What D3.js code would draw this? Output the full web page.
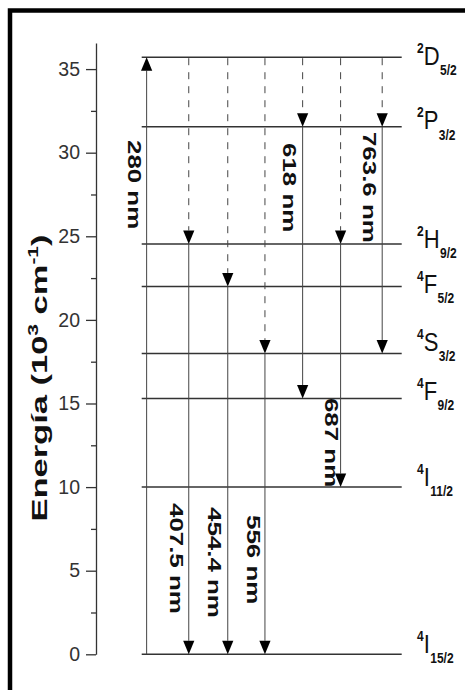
<!DOCTYPE html>
<html>
<head>
<meta charset="utf-8">
<script src="https://cdn.jsdelivr.net/npm/d3@7"></script>
<style>
  html, body { margin: 0; padding: 0; background: #fff; }
  svg { display: block; }
</style>
</head>
<body>
<svg id="chart" width="465" height="690"></svg>
<script>
// Energy levels (10^3 cm^-1) and their term symbols
const levelMult   = ["2", "2", "2", "4", "4", "4", "4", "4"];
const levelLetter = ["D", "P", "H", "F", "S", "F", "I", "I"];
const levelJ      = ["5/2", "3/2", "9/2", "5/2", "3/2", "9/2", "11/2", "15/2"];
const levelEnergy = [35.71, 31.55, 24.54, 22.0, 17.99, 15.3, 10.0, 0];

// Radiative transitions: wavelength label, start / end level index, column position
const transLabel = ["280 nm", "407.5 nm", "454.4 nm", "556 nm", "618 nm", "687 nm", "763.6 nm"];
const transFrom  = [7, 2, 3, 4, 1, 2, 1];
const transTo    = [0, 7, 7, 7, 5, 6, 4];
const transX     = [0.19, 1.81, 3.31, 4.74, 6.19, 7.65, 9.25];
// Non-radiative relaxation from the pumped level down to the emitting level
const pumpLevel  = 0;

// Axis ticks
const majorTicks = [0, 5, 10, 15, 20, 25, 30, 35];
const minorTicks = [2.5, 7.5, 12.5, 17.5, 22.5, 27.5, 32.5];

// Label placement (energy at which each wavelength label begins, px offset from arrow)
const labelStartE = [30.76, 9.05, 8.81, 8.33, 30.58, 15.33, 31.24];
const labelDx     = [-19, -18.5, -19.5, -18, -19.5, -15.5, -19];
const termDy      = [8, 2.7, 4, 6.7, -2.3, 1.3, -0.7, -1.3];

const svg = d3.select("#chart");

// Outer frame
svg.append("rect")
  .attr("x", 10).attr("y", 10.5)
  .attr("width", 480).attr("height", 720)
  .attr("fill", "none").attr("stroke", "#000").attr("stroke-width", 4.5);

const y = d3.scaleLinear().domain([0, 36.56]).range([654.3, 43]);
const x = d3.scaleLinear().domain([0, 10]).range([141.7, 401.7]);

// Y axis
const axisG = svg.append("g").attr("transform", "translate(96,0)");
axisG.call(d3.axisLeft(y).tickValues(majorTicks).tickSize(10).tickSizeOuter(0).tickPadding(6))
  .call(g => g.selectAll("text")
    .attr("font-family", "Liberation Sans, Arial, sans-serif")
    .attr("font-size", 19.5).attr("fill", "#333"));
axisG.append("g")
  .call(d3.axisLeft(y).tickValues(minorTicks).tickSize(5).tickSizeOuter(0).tickFormat(""))
  .call(g => g.select(".domain").remove());
axisG.selectAll("path, line").attr("stroke", "#333").attr("stroke-width", 1.3);

// Axis title
const title = svg.append("text")
  .attr("transform", "translate(47,378) scale(1,1.5) rotate(-90)")
  .attr("text-anchor", "middle")
  .attr("font-family", "Liberation Sans, Arial, sans-serif")
  .attr("font-weight", "bold").attr("font-size", 23).attr("fill", "#111");
title.append("tspan").text("Energía (10");
title.append("tspan").attr("font-size", 14).attr("dy", -9).text("3");
title.append("tspan").attr("dy", 9).text(" cm");
title.append("tspan").attr("font-size", 14).attr("dy", -9).text("-1");
title.append("tspan").attr("dy", 9).text(")");

// Level lines
svg.append("g").selectAll("line")
  .data(levelEnergy)
  .join("line")
  .attr("x1", x(0)).attr("x2", x(10))
  .attr("y1", d => y(d)).attr("y2", d => y(d))
  .attr("stroke", "#333").attr("stroke-width", 1.5);

// Term symbol labels
const terms = svg.append("g")
  .attr("font-family", "Liberation Sans, Arial, sans-serif")
  .attr("fill", "#111");
levelEnergy.forEach((e, i) => {
  const base = y(e) + termDy[i];
  const t = terms.append("text")
    .attr("transform", `translate(417,${base}) scale(1,1.17)`);
  t.append("tspan").attr("font-size", 12).attr("font-weight", "bold")
    .attr("dy", -10.3).text(levelMult[i]);
  t.append("tspan").attr("font-size", 22).attr("dy", 10.3).text(levelLetter[i]);
  t.append("tspan").attr("font-size", 12).attr("font-weight", "bold")
    .attr("dx", 0.5).attr("dy", 8.6).text(levelJ[i]);
});

// Arrowhead helper: tip at (cx, cy), pointing down (dir=1) or up (dir=-1)
const headLen = 13.5, headHalf = 5.6;
function head(g, cx, cy, dir) {
  g.append("path")
    .attr("d", `M${cx},${cy} L${cx - headHalf},${cy - dir * headLen} L${cx + headHalf},${cy - dir * headLen} Z`)
    .attr("fill", "#000");
}

const arrows = svg.append("g");
transLabel.forEach((lab, i) => {
  const cx = x(transX[i]);
  const eFrom = levelEnergy[transFrom[i]];
  const eTo = levelEnergy[transTo[i]];
  const dir = eTo < eFrom ? 1 : -1;

  // dashed relaxation from the pumped level
  if (transFrom[i] !== pumpLevel && eTo < eFrom && levelEnergy[pumpLevel] > eFrom) {
    arrows.append("line")
      .attr("x1", cx).attr("x2", cx)
      .attr("y1", y(levelEnergy[pumpLevel])).attr("y2", y(eFrom) - headLen)
      .attr("stroke", "#444").attr("stroke-width", 1)
      .attr("stroke-dasharray", "7,7").attr("stroke-dashoffset", -1);
    head(arrows, cx, y(eFrom), 1);
  }

  // radiative transition
  arrows.append("line")
    .attr("x1", cx).attr("x2", cx)
    .attr("y1", y(eFrom)).attr("y2", y(eTo) - dir * headLen)
    .attr("stroke", "#444").attr("stroke-width", 1);
  head(arrows, cx, y(eTo), dir);

  // wavelength label, reading downward
  arrows.append("text")
    .attr("transform", `translate(${cx + labelDx[i]},${y(labelStartE[i])}) scale(1,1.48) rotate(90)`)
    .attr("font-family", "Liberation Sans, Arial, sans-serif")
    .attr("font-weight", "bold").attr("font-size", 17.5).attr("fill", "#111")
    .text(lab);
});
</script>
</body>
</html>
